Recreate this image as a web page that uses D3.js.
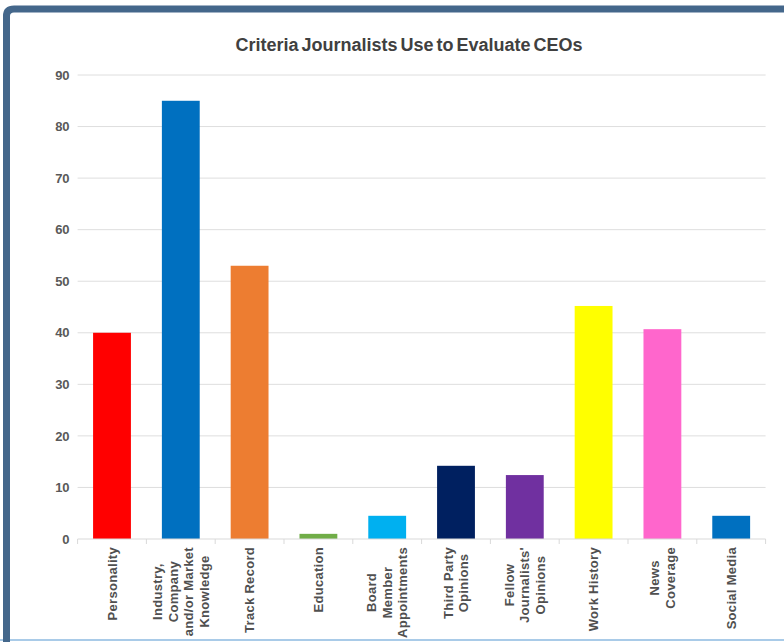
<!DOCTYPE html>
<html>
<head>
<meta charset="utf-8">
<script src="https://cdn.jsdelivr.net/npm/d3@7"></script>
<style>
  body { margin: 0; background: #fff; }
  svg { display: block; }
</style>
</head>
<body>
<div id="chart"></div>
<script>
// data
var categories = [
  ["Personality"],
  ["Industry,", "Company", "and/or Market", "Knowledge"],
  ["Track Record"],
  ["Education"],
  ["Board", "Member", "Appointments"],
  ["Third Party", "Opinions"],
  ["Fellow", "Journalists'", "Opinions"],
  ["Work History"],
  ["News", "Coverage"],
  ["Social Media"]
];
var values = [40, 85, 53, 1, 4.5, 14.2, 12.4, 45.2, 40.7, 4.5];
var colors = ["#ff0000", "#0070c0", "#ed7d31", "#70ad47", "#00b0f0",
              "#002060", "#7030a0", "#ffff00", "#ff66cc", "#0070c0"];
var yTicks = [0, 10, 20, 30, 40, 50, 60, 70, 80, 90];
var title = "Criteria Journalists Use to Evaluate CEOs";

var W = 784, H = 642;
var svg = d3.select("#chart").append("svg")
    .attr("width", W)
    .attr("height", H);

// slide frame
svg.append("line")
    .attr("x1", 0).attr("x2", W)
    .attr("y1", 640).attr("y2", 640)
    .style("stroke", "#a9cbe8")
    .style("stroke-width", 2);
svg.append("path")
    .attr("d", "M6.5," + H + " V16 Q6.5,9 14,9 H" + W)
    .style("fill", "none")
    .style("stroke", "#44678b")
    .style("stroke-width", 7);

var x = d3.scaleBand()
    .domain(d3.range(categories.length))
    .range([77.6, 765.6])
    .paddingInner(0.45)
    .paddingOuter(0.225);

var y = d3.scaleLinear()
    .domain([0, 90])
    .range([539, 75]);

// gridlines
svg.append("g")
    .selectAll("line")
    .data(yTicks.slice(1))
    .enter().append("line")
    .attr("x1", 77.6).attr("x2", 765.6)
    .attr("y1", function(d) { return y(d); })
    .attr("y2", function(d) { return y(d); })
    .style("stroke", "#dedede")
    .style("stroke-width", 1);

// y labels
var yAxis = svg.append("g")
    .attr("transform", "translate(77.6,0)")
    .call(d3.axisLeft(y).tickValues(yTicks).tickSize(0).tickPadding(8));
yAxis.select(".domain").remove();
yAxis.selectAll("text")
    .style("font-family", "Liberation Sans, Arial, sans-serif")
    .style("font-size", "13px")
    .style("font-weight", "bold")
    .style("fill", "#595959");

// bars
svg.append("g")
    .selectAll("rect")
    .data(values)
    .enter().append("rect")
    .attr("x", function(d, i) { return x(i); })
    .attr("width", x.bandwidth())
    .attr("y", function(d) { return y(d); })
    .attr("height", function(d) { return y(0) - y(d); })
    .style("fill", function(d, i) { return colors[i]; });

// x axis line + ticks at band edges
var step = x.step();
var edges = d3.range(categories.length + 1).map(function(i) { return 77.6 + i * step; });
svg.append("line")
    .attr("x1", 77.6).attr("x2", 765.6)
    .attr("y1", y(0)).attr("y2", y(0))
    .style("stroke", "#d9d9d9");
svg.append("g")
    .selectAll("line")
    .data(edges)
    .enter().append("line")
    .attr("x1", function(d) { return d; })
    .attr("x2", function(d) { return d; })
    .attr("y1", y(0)).attr("y2", y(0) + 5)
    .style("stroke", "#d9d9d9");

// rotated category labels, lines centred on each other,
// longest line starting just under the axis
var lineGap = 15.5;
var labels = svg.append("g")
    .selectAll("g")
    .data(categories)
    .enter().append("g");
labels.selectAll("text")
    .data(function(d) { return d.map(function(t, j) { return {t: t, j: j, n: d.length}; }); })
    .enter().append("text")
    .attr("x", 0)
    .attr("y", function(d) { return (d.j - (d.n - 1) / 2) * lineGap + 4.5; })
    .attr("text-anchor", "middle")
    .style("font-family", "Liberation Sans, Arial, sans-serif")
    .style("font-size", "13px")
    .style("font-weight", "bold")
    .style("letter-spacing", "0.3px")
    .style("fill", "#505050")
    .text(function(d) { return d.t; });
labels.attr("transform", function(d, i) {
    var maxLen = 0;
    d3.select(this).selectAll("text").each(function() {
        maxLen = Math.max(maxLen, this.getComputedTextLength());
    });
    return "translate(" + (x(i) + x.bandwidth() / 2) + "," + (547 + maxLen / 2) + ") rotate(-90)";
});

// title
svg.append("text")
    .attr("x", 409)
    .attr("y", 51)
    .attr("text-anchor", "middle")
    .style("font-family", "Liberation Sans, Arial, sans-serif")
    .style("font-size", "18px")
    .style("font-weight", "bold")
    .style("word-spacing", "-2px")
    .style("fill", "#404040")
    .text(title);
</script>
</body>
</html>
